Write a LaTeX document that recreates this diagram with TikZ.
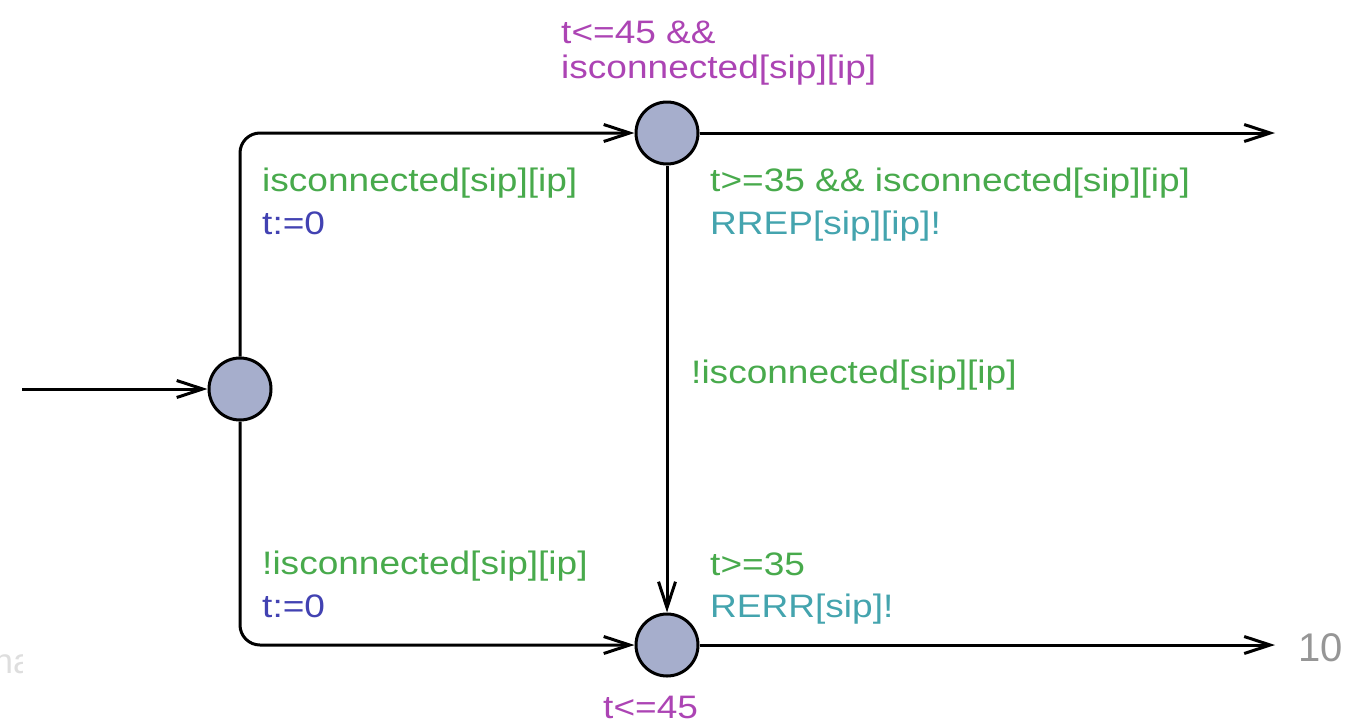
\documentclass[tikz,border=0pt]{standalone}
\usepackage{fontspec}
\usetikzlibrary{arrows.meta}
\newfontfamily\labfont[FakeStretch=1.14]{Liberation Sans}
\newfontfamily\numfont{Liberation Sans}
\definecolor{guardc}{RGB}{72,170,76}
\definecolor{assignc}{RGB}{66,66,178}
\definecolor{syncc}{RGB}{68,164,174}
\definecolor{invc}{RGB}{172,68,180}
\definecolor{locfill}{RGB}{166,174,204}
\definecolor{pagenum}{RGB}{150,150,150}
\definecolor{faint}{RGB}{222,222,222}
\begin{document}
\begin{tikzpicture}[x=1pt,y=-1pt,
  loc/.style={circle,draw,line width=3pt,fill=locfill,minimum size=62pt,inner sep=0pt},
  edge/.style={line width=3pt,-{Straight Barb[length=26pt,width=17pt]}},
  lbl/.style={anchor=base west,inner sep=0pt,font=\labfont\fontsize{32.5}{39}\selectfont},
  guard/.style={lbl,text=guardc},
  assign/.style={lbl,text=assignc},
  sync/.style={lbl,text=syncc},
  inv/.style={lbl,text=invc}]
\useasboundingbox (0,0) rectangle (1364,726);

% locations
\node[loc] (L0) at (240,389) {};
\node[loc] (L1) at (667,133) {};
\node[loc] (L2) at (667,645) {};

% free ends
\coordinate (init) at (22,389);
\coordinate (out1) at (1275,133);
\coordinate (out2) at (1275,645);

% edges
\draw[edge] (init) -- (L0);
\draw[edge,rounded corners=20pt] (L0) |- (L1);
\draw[edge,rounded corners=20pt] (L0) |- (L2);
\draw[edge] (L1) -- (L2);
\draw[edge] (L1) -- (out1);
\draw[edge] (L2) -- (out2);

% invariants
\node[inv] (inv1a) at (561,43) {t<=45 \&\&};
\node[inv] (inv1b) at (561,78) {isconnected[sip][ip]};
\node[inv] (inv2) at (603,718) {t<=45};

% edge L0 -> L1
\node[guard] (g1) at (262,191) {isconnected[sip][ip]};
\node[assign] (a1) at (262,234) {t:=0};
% edge L0 -> L2
\node[guard] (g2) at (262,574) {!isconnected[sip][ip]};
\node[assign] (a2) at (262,617) {t:=0};
% edge L1 -> out
\node[guard] (g3) at (710,191) {t>=35 \&\& isconnected[sip][ip]};
\node[sync] (s3) at (710,234) {RREP[sip][ip]!};
% edge L1 -> L2
\node[guard] (g4) at (691,383) {!isconnected[sip][ip]};
% edge L2 -> out
\node[guard] (g5) at (710,575) {t>=35};
\node[sync] (s5) at (710,617) {RERR[sip]!};

% slide page number
\node[anchor=base west,inner sep=0pt,text=pagenum,font=\numfont\fontsize{40}{48}\selectfont] (pnum) at (1298,661) {10};

% faint clipped slide text
\begin{scope}
\clip (0,600) rectangle (22,700);
\node[anchor=base west,inner sep=0pt,text=faint,font=\numfont\fontsize{35}{42}\selectfont] (frag) at (-6.5,673) {na};
\end{scope}
\end{tikzpicture}
\end{document}
